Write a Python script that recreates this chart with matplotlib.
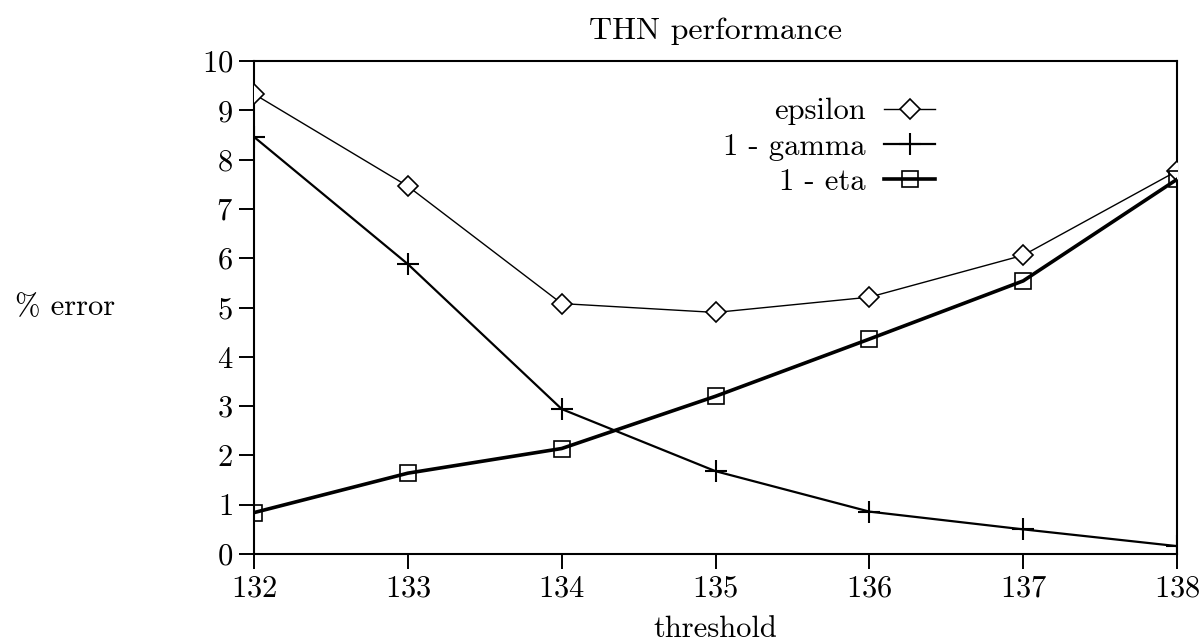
import matplotlib
matplotlib.use("Agg")
from matplotlib import pyplot as plt

# values
threshold = [132, 133, 134, 135, 136, 137, 138]
epsilon = [9.33, 7.46, 5.08, 4.90, 5.21, 6.06, 7.77]
one_minus_gamma = [8.46, 5.88, 2.94, 1.68, 0.86, 0.50, 0.16]
one_minus_eta = [0.84, 1.64, 2.14, 3.20, 4.36, 5.54, 7.60]
yticks = list(range(0, 11))

plt.rcParams['font.family'] = ['cmr10', 'DejaVu Serif']
plt.rcParams['mathtext.fontset'] = 'cm'
plt.rcParams['axes.formatter.use_mathtext'] = True
plt.rcParams['axes.unicode_minus'] = False

FS = 22

fig = plt.figure(figsize=(12.04, 6.43), dpi=100)
ax = fig.add_axes([0.211, 0.1384, 0.7666, 0.7667])

ax.plot(threshold, epsilon, color='black', lw=1.0, marker='D', ms=10.5,
        mfc='white', mec='black', mew=1.2, label='epsilon', zorder=3)
ax.plot(threshold, one_minus_gamma, color='black', lw=1.6, marker='+', ms=16,
        mec='black', mew=1.5, label='1 - gamma', zorder=3)
ax.plot(threshold, one_minus_eta, color='black', lw=2.6, marker='s', ms=12,
        mfc='none', mec='black', mew=1.2, label='1 - eta', zorder=3)

ax.set_xlim(132, 138)
ax.set_ylim(0, 10)
ax.set_xticks(threshold)
ax.set_yticks(yticks)
ax.tick_params(direction='out', length=11, width=1.4, labelsize=FS, pad=4)
for s in ax.spines.values():
    s.set_linewidth(1.5)

ax.set_title('THN performance', fontsize=FS + 1, pad=16)
ax.set_xlabel('threshold', fontsize=FS)
ax.xaxis.set_label_coords(0.5, -0.125)
ax.set_ylabel('% error', fontsize=FS, rotation=0, ha='center', va='center')
ax.yaxis.set_label_coords(-0.205, 0.5)

leg = ax.legend(loc='upper right', bbox_to_anchor=(0.738, 0.925), frameon=False,
                markerfirst=False, fontsize=FS, handlelength=1.67,
                handletextpad=0.6, labelspacing=0.25, borderpad=0, borderaxespad=0)

fig.savefig('out.png', dpi=100)
